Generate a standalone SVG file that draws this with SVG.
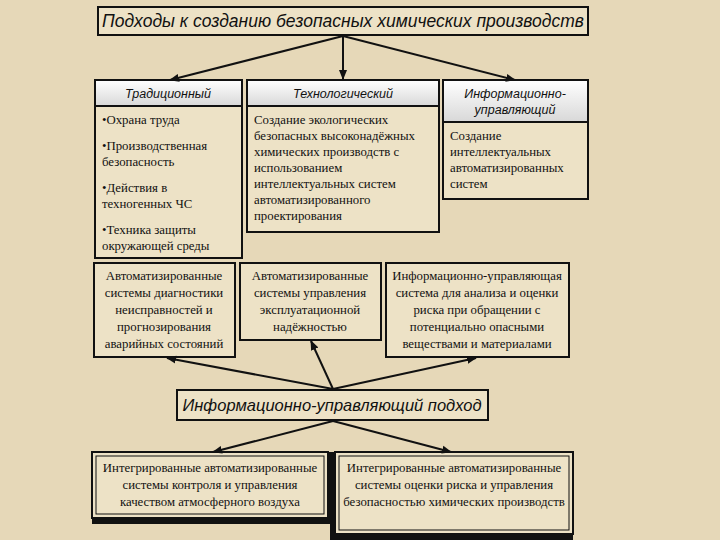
<svg xmlns="http://www.w3.org/2000/svg" width="720" height="540" viewBox="0 0 720 540">
<defs>
<linearGradient id="hd" x1="0" y1="0" x2="0" y2="1"><stop offset="0" stop-color="#ffffff"/><stop offset="1" stop-color="#d8d8d8"/></linearGradient>
<marker id="ar" viewBox="0 0 10 10" refX="9" refY="5" markerWidth="5" markerHeight="5" orient="auto-start-reverse"><path d="M0,1 L10,5 L0,9 z" fill="#111"/></marker>
<style>
.box{fill:#ede2c6;stroke:#111;stroke-width:2}
.hd{fill:url(#hd);stroke:#111;stroke-width:2}
.it{font-family:"Liberation Sans",Arial,sans-serif;font-style:italic;fill:#111}
.s{font-family:"Liberation Serif","Times New Roman",serif;font-size:12.8px;fill:#111}
.c{text-anchor:middle}
.ln{stroke:#111;stroke-width:2;fill:none;marker-end:url(#ar)}
.sh{fill:#111}
</style>
</defs>
<rect width="720" height="540" fill="#e6d8b8"/>
<g id="title"><rect class="box" x="98" y="7" width="490" height="28"/><text class="it c" x="343" y="27" font-size="17.5">Подходы к созданию безопасных химических производств</text></g>
<g id="trad"><rect class="box" x="95" y="106" width="147" height="152"/><rect class="hd" x="95" y="80" width="147" height="26"/>
<text class="it c" x="168" y="98" font-size="12.5">Традиционный</text>
<text class="s" x="102" y="124">•Охрана труда</text>
<text class="s" x="102" y="150">•Производственная</text><text class="s" x="102" y="166">безопасность</text>
<text class="s" x="102" y="192">•Действия в</text><text class="s" x="102" y="208">техногенных ЧС</text>
<text class="s" x="102" y="234">•Техника защиты</text><text class="s" x="102" y="250">окружающей среды</text></g>
<g id="tech"><rect class="box" x="247" y="106" width="192" height="126"/><rect class="hd" x="247" y="80" width="192" height="26"/>
<text class="it c" x="343" y="98" font-size="12.5">Технологический</text>
<text class="s" x="254" y="124">Создание экологических</text><text class="s" x="254" y="140">безопасных высоконадёжных</text><text class="s" x="254" y="156">химических производств с</text><text class="s" x="254" y="172">использованием</text><text class="s" x="254" y="188">интеллектуальных систем</text><text class="s" x="254" y="204">автоматизированного</text><text class="s" x="254" y="220">проектирования</text></g>
<g id="info"><rect class="box" x="443" y="122" width="145" height="77"/><rect class="hd" x="443" y="80" width="145" height="42"/>
<text class="it c" x="515" y="98" font-size="12.5">Информационно-</text><text class="it c" x="515" y="114" font-size="12.5">управляющий</text>
<text class="s" x="450" y="140">Создание</text><text class="s" x="450" y="156">интеллектуальных</text><text class="s" x="450" y="172">автоматизированных</text><text class="s" x="450" y="188">систем</text></g>
<g id="b1"><rect class="box" x="94" y="263" width="141" height="94"/>
<text class="s c" x="164" y="280">Автоматизированные</text><text class="s c" x="164" y="297">системы диагностики</text><text class="s c" x="164" y="314">неисправностей и</text><text class="s c" x="164" y="331">прогнозирования</text><text class="s c" x="164" y="348">аварийных состояний</text></g>
<g id="b2"><rect class="box" x="240" y="263" width="141" height="77"/>
<text class="s c" x="310" y="280">Автоматизированные</text><text class="s c" x="310" y="297">системы управления</text><text class="s c" x="310" y="314">эксплуатационной</text><text class="s c" x="310" y="331">надёжностью</text></g>
<g id="b3"><rect class="box" x="386" y="263" width="183" height="94"/>
<text class="s c" x="477" y="280">Информационно-управляющая</text><text class="s c" x="477" y="297">система для анализа и оценки</text><text class="s c" x="477" y="314">риска при обращении с</text><text class="s c" x="477" y="331">потенциально опасными</text><text class="s c" x="477" y="348">веществами и материалами</text></g>
<g id="mid"><rect class="box" x="177" y="390" width="311" height="30"/><text class="it c" x="332" y="411" font-size="16.5">Информационно-управляющий подход</text></g>
<g id="l1"><rect class="sh" x="92" y="452" width="238" height="72"/><rect class="box" x="92" y="452" width="236" height="66" stroke-width="1.5"/><rect x="96" y="456" width="228" height="58" fill="none" stroke="#111"/>
<text class="s c" x="210" y="472">Интегрированные автоматизированные</text><text class="s c" x="210" y="489">системы контроля и управления</text><text class="s c" x="210" y="506">качеством атмосферного воздуха</text></g>
<g id="r1"><rect class="sh" x="330" y="452" width="243" height="88"/><rect class="box" x="335" y="452" width="238" height="82" stroke-width="1.5"/><rect x="339" y="456" width="230" height="74" fill="none" stroke="#111"/>
<text class="s c" x="454" y="472">Интегрированные автоматизированные</text><text class="s c" x="454" y="489">системы оценки риска и управления</text><text class="s c" x="454" y="506">безопасностью химических производств</text></g>
<g id="connectors">
<line class="ln" x1="343" y1="36" x2="170" y2="80"/>
<line class="ln" x1="343" y1="36" x2="343" y2="79"/>
<line class="ln" x1="343" y1="36" x2="515" y2="80"/>
<line class="ln" x1="333" y1="389" x2="167" y2="358"/>
<line class="ln" x1="333" y1="389" x2="311" y2="341"/>
<line class="ln" x1="333" y1="389" x2="476" y2="358"/>
<line class="ln" x1="333" y1="421" x2="213" y2="452"/>
<line class="ln" x1="333" y1="421" x2="451" y2="452"/>
</g>
</svg>
